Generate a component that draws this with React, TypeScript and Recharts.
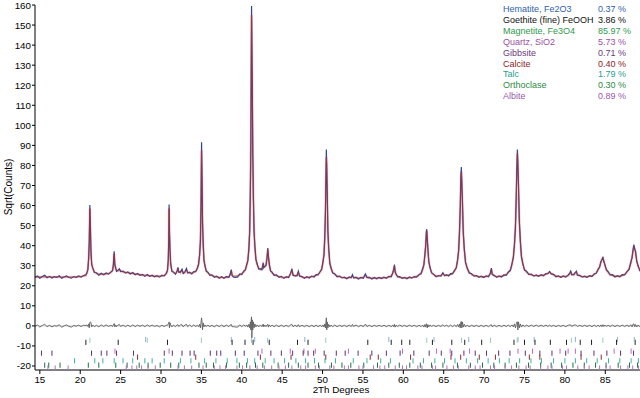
import {
  ComposedChart,
  Line,
  ReferenceLine,
  Scatter,
  XAxis,
  YAxis,
} from "recharts"

// rows: [2theta, observed, calculated]  (sqrt counts)
const scanLow: [number, number, number][] = [
  [14.4, 24.1, 24.4], [14.7, 24.9, 24.4], [15.0, 23.8, 24.4], [15.3, 24.6, 24.4], [15.6, 25.2, 24.4],
  [15.9, 24.0, 24.4], [16.2, 24.7, 24.4], [16.5, 23.9, 24.4], [16.8, 24.5, 24.4], [17.1, 24.2, 24.4],
  [17.4, 25.0, 24.4], [17.7, 23.7, 24.4], [18.0, 24.4, 24.4], [18.3, 24.9, 24.4], [18.6, 24.1, 24.4],
  [18.9, 23.8, 24.4], [19.2, 24.6, 24.4], [19.5, 24.2, 24.4], [19.8, 24.9, 24.5], [20.1, 24.3, 24.6],
  [20.4, 25.1, 24.8], [20.7, 25.4, 25.2], [20.85, 26.9, 26.5], [20.95, 28.2, 28.5], [21.05, 34.5, 33.5],
  [21.12, 42.0, 43.0], [21.19, 60.3, 58.5], [21.26, 49.0, 47.0], [21.33, 37.5, 36.0], [21.42, 30.5, 31.0],
  [21.55, 28.9, 28.5], [21.75, 26.6, 27.0], [22.0, 26.5, 26.2], [22.3, 25.3, 25.8], [22.6, 26.2, 25.7],
  [22.9, 25.5, 25.8], [23.2, 26.4, 25.9], [23.5, 25.8, 26.1], [23.8, 26.9, 26.6], [24.0, 27.5, 27.8],
  [24.1, 30.5, 30.0], [24.2, 37.2, 36.0], [24.28, 30.5, 31.0], [24.38, 29.0, 28.5], [24.5, 27.2, 27.6],
  [24.7, 27.9, 27.4], [24.85, 28.5, 27.8], [25.0, 27.1, 27.4], [25.3, 27.3, 26.9], [25.6, 26.3, 26.7],
  [25.9, 26.9, 26.5], [26.2, 25.9, 26.3], [26.5, 26.6, 26.1], [26.8, 25.5, 25.9], [27.1, 26.1, 25.7],
  [27.4, 25.2, 25.5], [27.7, 25.7, 25.3], [28.0, 24.8, 25.2], [28.3, 25.6, 25.1], [28.6, 24.7, 25.0],
  [28.9, 25.3, 24.9], [29.2, 24.5, 24.8], [29.5, 25.0, 24.8], [29.8, 24.3, 24.8], [30.1, 25.2, 24.9],
]

const scanMid: [number, number, number][] = [
  [30.4, 24.9, 25.2], [30.65, 26.2, 25.9], [30.8, 27.8, 27.5], [30.9, 33.0, 32.0], [30.96, 43.5, 42.0],
  [31.0, 60.5, 58.5], [31.05, 46.0, 47.0], [31.12, 37.5, 36.0], [31.2, 31.0, 30.5], [31.35, 27.1, 27.6],
  [31.55, 26.9, 26.5], [31.8, 25.8, 26.2], [32.0, 27.5, 27.0], [32.1, 29.2, 28.6], [32.2, 26.7, 27.0],
  [32.4, 26.9, 26.4], [32.6, 28.2, 27.6], [32.75, 26.1, 26.6], [32.95, 26.9, 26.5], [33.15, 28.6, 27.8],
  [33.3, 26.4, 26.8], [33.55, 26.8, 26.3], [33.8, 25.9, 26.3], [34.05, 27.1, 26.6], [34.3, 27.0, 27.3],
  [34.5, 28.9, 28.6], [34.65, 30.6, 31.0], [34.78, 35.8, 35.0], [34.88, 42.0, 43.0], [34.96, 62.0, 60.0],
  [35.02, 91.5, 87.5], [35.08, 74.0, 72.0], [35.14, 51.0, 53.0], [35.22, 41.5, 40.0], [35.32, 32.5, 33.0],
  [35.45, 30.0, 29.5], [35.6, 27.2, 27.6], [35.8, 26.8, 26.4], [36.05, 25.2, 25.6], [36.3, 25.4, 25.1],
  [36.6, 24.2, 24.7], [36.9, 24.8, 24.4], [37.2, 23.8, 24.2], [37.5, 24.5, 24.1], [37.8, 23.7, 24.1],
  [38.1, 24.6, 24.2], [38.4, 24.1, 24.5], [38.6, 26.2, 25.6], [38.7, 28.1, 27.4], [38.8, 25.0, 25.4],
  [39.0, 24.3, 24.7], [39.25, 24.2, 24.8], [39.5, 24.4, 25.0], [39.75, 25.9, 25.4], [40.0, 25.6, 26.0],
  [40.25, 27.4, 26.9], [40.45, 27.9, 28.2], [40.6, 30.5, 30.0], [40.75, 32.4, 33.0], [40.88, 38.8, 38.0],
  [40.98, 47.0, 48.0], [41.06, 68.0, 66.0], [41.12, 88.0, 90.0], [41.17, 128.0, 125.0], [41.21, 159.5, 155.0],
  [41.25, 140.0, 146.0], [41.3, 121.0, 118.0], [41.36, 86.0, 88.0], [41.43, 66.0, 64.0], [41.52, 47.0, 48.0],
  [41.62, 40.0, 39.0], [41.75, 33.0, 33.5], [41.9, 31.0, 30.5], [42.1, 28.3, 28.8], [42.3, 28.5, 28.0],
  [42.5, 28.0, 28.4], [42.65, 31.4, 30.5], [42.72, 29.0, 29.5], [42.85, 29.8, 29.4], [43.0, 30.1, 30.5],
  [43.12, 33.9, 33.5], [43.22, 38.8, 38.0], [43.3, 34.4, 35.0], [43.4, 31.0, 30.5], [43.55, 27.4, 27.8],
  [43.75, 26.8, 26.4], [44.0, 25.2, 25.6], [44.3, 25.4, 25.0], [44.6, 24.2, 24.6], [44.9, 24.7, 24.3],
  [45.2, 23.7, 24.1], [45.5, 24.5, 24.2], [45.8, 24.1, 24.5], [46.05, 26.3, 25.8], [46.2, 28.4, 27.6],
  [46.35, 25.2, 25.6], [46.6, 25.1, 24.8], [46.85, 25.0, 25.4], [47.0, 27.2, 26.6], [47.15, 24.8, 25.2],
  [47.45, 24.6, 24.3], [47.75, 23.7, 24.1], [48.05, 24.5, 24.2], [48.35, 23.9, 24.3], [48.65, 24.8, 24.5],
  [48.95, 24.4, 24.8], [49.2, 25.6, 25.2], [49.45, 25.4, 25.8], [49.7, 27.1, 26.8], [49.9, 28.2, 28.6],
  [50.05, 32.0, 31.5], [50.18, 35.4, 36.0], [50.28, 45.0, 44.0], [50.36, 57.0, 58.0], [50.42, 75.0, 73.0],
  [50.47, 88.0, 84.0], [50.52, 78.0, 80.0], [50.58, 66.0, 64.0], [50.66, 47.0, 48.0], [50.76, 38.8, 38.0],
  [50.9, 31.0, 31.5], [51.05, 29.0, 28.6], [51.25, 26.4, 26.8], [51.5, 26.0, 25.6], [51.8, 24.5, 24.9],
]

const scanHigh: [number, number, number][] = [
  [52.1, 24.8, 24.5], [52.4, 23.9, 24.2], [52.7, 24.3, 24.0], [53.0, 23.5, 23.9], [53.3, 24.4, 24.0],
  [53.55, 24.0, 24.3], [53.7, 25.5, 24.8], [53.85, 23.9, 24.2], [54.15, 24.3, 23.9], [54.45, 23.4, 23.8],
  [54.75, 24.2, 23.9], [55.05, 23.8, 24.2], [55.3, 25.9, 25.0], [55.5, 24.1, 24.4], [55.8, 24.2, 23.9],
  [56.1, 23.4, 23.8], [56.4, 24.1, 23.8], [56.7, 23.5, 23.8], [57.0, 24.2, 23.9], [57.3, 23.6, 23.9],
  [57.6, 24.3, 24.0], [57.9, 23.7, 24.1], [58.2, 24.7, 24.4], [58.5, 24.5, 24.9], [58.7, 26.6, 26.2],
  [58.82, 28.2, 28.6], [58.9, 30.6, 29.8], [58.98, 27.0, 27.6], [59.1, 25.9, 25.6], [59.3, 24.4, 24.7],
  [59.55, 24.6, 24.2], [59.85, 23.7, 24.0], [60.15, 24.2, 23.9], [60.45, 23.5, 23.9], [60.75, 24.4, 24.0],
  [61.05, 23.8, 24.1], [61.35, 24.6, 24.3], [61.65, 24.3, 24.7], [61.95, 25.6, 25.3], [62.2, 26.0, 26.4],
  [62.4, 28.6, 28.2], [62.55, 30.4, 31.0], [62.68, 36.2, 35.5], [62.78, 40.4, 41.0], [62.85, 47.0, 46.0],
  [62.9, 48.2, 47.2], [62.96, 43.0, 44.0], [63.04, 38.6, 38.0], [63.15, 32.0, 32.5], [63.3, 29.3, 28.8],
  [63.5, 26.4, 26.7], [63.75, 25.8, 25.5], [64.05, 24.5, 24.9], [64.35, 25.1, 24.8], [64.65, 24.8, 25.1],
  [64.9, 26.5, 25.9], [65.1, 25.0, 25.3], [65.35, 25.5, 25.1], [65.6, 24.9, 25.3], [65.85, 26.0, 25.6],
  [66.1, 25.9, 26.3], [66.35, 27.8, 27.4], [66.55, 28.8, 29.2], [66.72, 33.2, 32.5], [66.85, 37.4, 38.0],
  [66.96, 48.0, 47.0], [67.05, 59.0, 60.0], [67.12, 74.0, 72.0], [67.18, 79.2, 77.0], [67.24, 71.0, 72.0],
  [67.32, 62.0, 60.0], [67.42, 46.4, 47.0], [67.54, 38.8, 38.0], [67.7, 31.5, 32.0], [67.9, 29.0, 28.6],
  [68.15, 26.4, 26.8], [68.45, 26.0, 25.7], [68.75, 24.8, 25.1], [69.05, 25.1, 24.8], [69.35, 24.2, 24.6],
  [69.65, 24.8, 24.5], [69.95, 24.1, 24.5], [70.25, 24.9, 24.6], [70.55, 24.5, 24.9], [70.78, 26.4, 26.0],
  [70.9, 28.8, 28.2], [71.0, 25.6, 26.0], [71.25, 25.2, 24.9], [71.55, 24.2, 24.6], [71.85, 24.9, 24.6],
]

const scanTop: [number, number, number][] = [
  [72.15, 24.4, 24.8], [72.45, 25.4, 25.1], [72.75, 25.3, 25.6], [73.0, 26.9, 26.5], [73.25, 27.6, 28.0],
  [73.45, 31.0, 30.5], [73.62, 34.0, 34.5], [73.76, 41.0, 40.0], [73.88, 49.0, 50.0], [73.98, 65.0, 64.0],
  [74.06, 80.0, 78.0], [74.12, 88.0, 86.0], [74.18, 80.0, 82.0], [74.26, 70.0, 68.0], [74.36, 52.0, 53.0],
  [74.48, 43.0, 42.0], [74.62, 34.4, 35.0], [74.8, 31.0, 30.5], [75.0, 27.8, 28.2], [75.25, 27.2, 26.8],
  [75.55, 25.6, 25.9], [75.85, 25.8, 25.4], [76.15, 24.8, 25.1], [76.45, 25.4, 25.0], [76.75, 24.7, 25.0],
  [77.05, 25.5, 25.1], [77.35, 25.0, 25.3], [77.65, 26.1, 25.7], [77.9, 26.0, 26.3], [78.1, 27.1, 26.7],
  [78.3, 25.9, 26.2], [78.6, 25.7, 25.4], [78.9, 24.5, 24.9], [79.2, 24.9, 24.6], [79.5, 24.2, 24.5],
  [79.8, 24.9, 24.6], [80.1, 24.3, 24.7], [80.4, 25.3, 25.0], [80.6, 26.3, 25.8], [80.72, 27.3, 26.8],
  [80.85, 25.5, 25.8], [81.1, 25.7, 25.4], [81.3, 26.7, 26.2], [81.42, 27.2, 26.9], [81.55, 25.3, 25.6],
  [81.85, 25.2, 24.9], [82.15, 24.3, 24.6], [82.45, 24.8, 24.5], [82.75, 24.2, 24.5], [83.05, 25.0, 24.7],
  [83.35, 24.6, 25.0], [83.65, 26.0, 25.6], [83.9, 26.2, 26.6], [84.1, 28.2, 27.8], [84.3, 29.2, 29.6],
  [84.45, 32.0, 31.5], [84.58, 32.8, 33.2], [84.7, 34.4, 33.8], [84.82, 32.1, 32.4], [84.95, 30.7, 30.3],
  [85.12, 28.0, 28.3], [85.35, 27.0, 26.7], [85.6, 25.4, 25.7], [85.9, 25.5, 25.1], [86.2, 24.4, 24.8],
  [86.5, 25.0, 24.7], [86.8, 24.5, 24.8], [87.1, 25.5, 25.1], [87.4, 25.4, 25.7], [87.7, 27.2, 26.8],
  [87.95, 28.2, 28.6], [88.15, 31.6, 31.0], [88.32, 34.0, 34.5], [88.45, 38.4, 37.5], [88.55, 40.4, 39.4],
  [88.65, 38.0, 38.5], [88.75, 37.2, 36.5], [88.9, 32.0, 32.5], [89.05, 30.2, 29.8], [89.3, 27.2, 27.6],
]

// reference pattern stick positions (2theta)
const hematiteTicks = [28.1, 38.7, 41.6, 47.8, 58.2, 63.8, 68.1, 74.2, 76.2, 81.3, 86.5, 88.6]
const goethiteTicks = [20.7, 24.7, 30.8, 38.8, 40.4, 41.4, 43.4, 46.9, 48.2, 55.6, 58.5, 59.8, 60.8, 63.6, 66.0, 67.6, 69.7, 73.7, 75.0, 76.3, 78.2, 80.2, 81.9, 83.3, 86.4, 88.7]
const magnetiteTicks = [21.2, 28.3, 35.0, 41.2, 43.2, 50.4, 62.9, 67.2, 70.8, 74.1, 80.8, 84.7, 88.6]
const quartzTicks = [24.3, 31.0, 42.5, 46.0, 47.7, 49.1, 53.2, 59.9, 64.1, 65.8, 68.2, 74.2, 76.0, 79.4, 80.4, 81.3, 86.1, 88.2]
const gibbsiteTicks = [15.2, 16.5, 21.4, 22.6, 23.3, 24.5, 26.6, 30.4, 31.4, 32.6, 33.6, 34.1, 36.1, 36.9, 37.4, 39.2, 40.3, 42.0, 43.6, 44.9, 46.3, 47.6, 48.2, 48.9, 50.2, 51.7, 52.8, 54.4, 56.1, 57.9, 59.6, 61.3, 63.2, 64.7, 66.0, 67.5, 68.9, 70.3, 71.8, 73.2, 75.1, 76.9, 78.4, 80.1, 82.0, 83.6, 85.2, 86.9, 88.5]
const calciteTicks = [27.1, 34.3, 42.3, 46.1, 50.4, 55.9, 56.9, 60.9, 65.9, 67.1, 69.4, 71.4, 75.6, 76.9, 82.0, 84.5]
const talcTicks = [19.3, 21.8, 22.8, 24.2, 25.3, 26.5, 28.0, 28.9, 30.4, 32.4, 33.7, 35.4, 36.8, 38.2, 39.4, 40.7, 41.6, 42.9, 44.0, 45.3, 46.7, 47.9, 49.0, 50.3, 51.6, 53.8, 55.5, 57.2, 58.4, 61.2, 62.5, 63.9, 65.1, 66.4, 67.8, 69.2, 70.5, 71.9, 73.1, 74.4, 75.8, 77.1, 78.6, 80.0, 81.3, 82.7, 84.0, 85.4, 86.8, 88.2, 89.1]
const orthoclaseTicks = [15.6, 16.1, 17.5, 21.0, 22.3, 24.4, 25.8, 27.3, 28.4, 29.9, 31.2, 32.2, 34.7, 35.6, 36.5, 38.1, 39.7, 40.6, 41.7, 42.6, 44.5, 45.8, 47.0, 48.2, 49.5, 51.1, 52.4, 53.5, 55.1, 56.8, 58.2, 59.5, 60.8, 62.1, 63.5, 64.9, 66.7, 68.3, 69.8, 71.2, 72.6, 74.0, 75.5, 77.0, 78.3, 79.6, 81.0, 82.4, 83.8, 85.1, 86.6, 88.0, 89.0]
const albiteTicks = [16.0, 16.9, 18.5, 25.7, 26.4, 27.0, 27.6, 28.4, 29.3, 32.1, 32.9, 33.8, 35.2, 36.6, 37.3, 38.0, 39.4, 40.1, 41.0, 41.9, 42.8, 43.7, 44.6, 45.4, 46.2, 47.3, 47.9, 49.1, 49.6, 50.9, 51.4, 52.7, 53.2, 54.5, 55.0, 56.3, 57.1, 57.7, 59.0, 59.9, 60.4, 61.8, 62.3, 63.6, 64.0, 65.4, 66.2, 66.8, 68.1, 68.9, 69.5, 70.8, 71.3, 72.6, 73.4, 74.3, 75.2, 75.7, 77.0, 77.9, 78.4, 79.7, 80.2, 81.6, 82.4, 83.0, 84.3, 85.1, 85.6, 86.9, 87.8, 88.4, 89.1]

const phaseNames = ["Hematite, Fe2O3", "Goethite (fine) FeOOH", "Magnetite, Fe3O4", "Quartz, SiO2", "Gibbsite", "Calcite", "Talc", "Orthoclase", "Albite"]
const phasePercents = ["0.37 %", "3.86 %", "85.97 %", "5.73 %", "0.71 %", "0.40 %", "1.79 %", "0.30 %", "0.89 %"]

const xTicks = [15, 20, 25, 30, 35, 40, 45, 50, 55, 60, 65, 70, 75, 80, 85]
const yTicks = [-20, -10, 0, 10, 20, 30, 40, 50, 60, 70, 80, 90, 100, 110, 120, 130, 140, 150, 160]

const phaseStyle = [
  { ticks: hematiteTicks, color: "#2f62a8", tickColor: "#8fb0dc", row: -6.8 },
  { ticks: goethiteTicks, color: "#111111", tickColor: "#222222", row: -8.2 },
  { ticks: magnetiteTicks, color: "#2f9a4c", tickColor: "#9ccdb4", row: -7.2 },
  { ticks: quartzTicks, color: "#9b4fa6", tickColor: "#b86cc0", row: -12.6 },
  { ticks: gibbsiteTicks, color: "#6a3a7c", tickColor: "#5e2f70", row: -13.6 },
  { ticks: calciteTicks, color: "#8b1c1c", tickColor: "#8b2a2a", row: -15.6 },
  { ticks: talcTicks, color: "#2a9d8f", tickColor: "#3fb2a2", row: -17.4 },
  { ticks: orthoclaseTicks, color: "#2d8a45", tickColor: "#1f6f3f", row: -19.6 },
  { ticks: albiteTicks, color: "#9a5ab0", tickColor: "#a877b8", row: -21.0 },
]

const FONT = "'Liberation Sans', Arial, sans-serif"

const rows = [...scanLow, ...scanMid, ...scanHigh, ...scanTop].map(([x, obs, calc]) => ({
  x,
  obs,
  calc,
  diff: +(obs - calc).toFixed(2),
}))

function StickShape(color: string) {
  return (p: any) => (
    <line x1={p.cx} x2={p.cx} y1={p.cy - 2.6} y2={p.cy + 2.6} stroke={color} strokeWidth={1} />
  )
}

export default function App() {
  return (
    <div style={{ position: "absolute", left: 0, top: 0, width: 640, height: 398, background: "#fff" }}>
      <ComposedChart width={640} height={398} data={rows} margin={{ top: 5, right: 0, bottom: 0, left: 0 }}>
        <XAxis
          dataKey="x"
          type="number"
          domain={[14.4, 89.3]}
          allowDataOverflow
          ticks={xTicks}
          height={28}
          tickSize={4}
          tickMargin={2}
          stroke="#000"
          tick={{ fontSize: 9.8, fill: "#000", fontFamily: FONT }}
        />
        <YAxis
          type="number"
          domain={[-22, 160]}
          allowDataOverflow
          ticks={yTicks}
          width={35}
          tickSize={3}
          tickMargin={1}
          stroke="#000"
          tick={{ fontSize: 9.8, fill: "#000", fontFamily: FONT }}
        />
        <ReferenceLine y={0} stroke="#c8c8c8" strokeWidth={1} />
        <Line dataKey="calc" type="linear" stroke="#f6cccc" strokeWidth={2.6} dot={false} isAnimationActive={false} />
        <Line dataKey="obs" type="linear" stroke="#2f4690" strokeWidth={1.2} dot={false} isAnimationActive={false} />
        <Line dataKey="calc" type="linear" stroke="#b03030" strokeOpacity={0.85} strokeWidth={0.8} dot={false} isAnimationActive={false} />
        <Line dataKey="diff" type="linear" stroke="#5f5f5f" strokeWidth={0.9} dot={false} isAnimationActive={false} />
        {phaseStyle.map((ph, i) => (
          <Scatter
            key={i}
            data={ph.ticks.map((t) => ({ x: t, y: ph.row }))}
            dataKey="y"
            shape={StickShape(ph.tickColor)}
            isAnimationActive={false}
          />
        ))}
      </ComposedChart>
      <svg width={640} height={398} style={{ position: "absolute", left: 0, top: 0, pointerEvents: "none" }}>
        <text
          x={8}
          y={187}
          transform="rotate(-90 8 187)"
          textAnchor="middle"
          dominantBaseline="central"
          fontSize={10}
          fontFamily={FONT}
          fill="#000"
        >
          Sqrt(Counts)
        </text>
        <text x={341} y={389} textAnchor="middle" dominantBaseline="central" fontSize={9.8} fontFamily={FONT} fill="#000">
          2Th Degrees
        </text>
        {phaseNames.map((name, i) => (
          <g key={name}>
            <text x={503} y={9 + i * 10.9} dominantBaseline="central" fontSize={9} fontFamily={FONT} fill={phaseStyle[i].color}>
              {name}
            </text>
            <text x={598} y={9 + i * 10.9} dominantBaseline="central" fontSize={9} fontFamily={FONT} fill={phaseStyle[i].color}>
              {phasePercents[i]}
            </text>
          </g>
        ))}
      </svg>
    </div>
  )
}
